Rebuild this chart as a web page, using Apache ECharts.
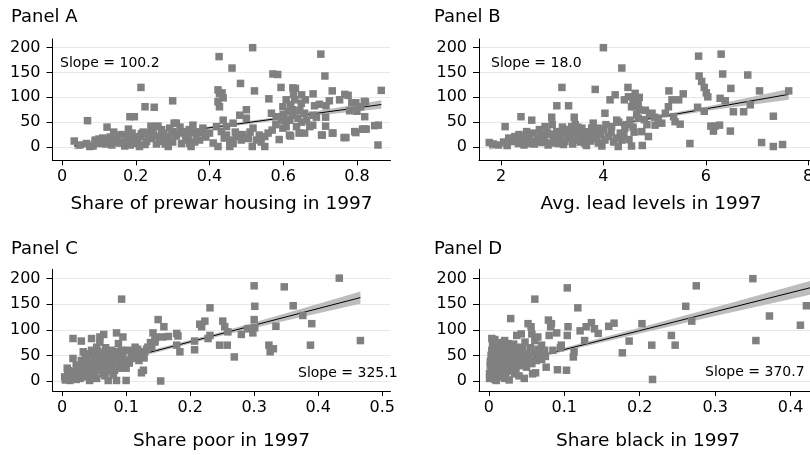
<!DOCTYPE html>
<html><head><meta charset="utf-8">
<script src="https://cdn.jsdelivr.net/npm/echarts@6/dist/echarts.min.js"></script>
<style>html,body{margin:0;padding:0;background:#fff}#c{width:810px;height:455px}</style>
</head><body><div id="c"></div>
<script>
// ---------- DATA ----------
const yTicks = [0, 50, 100, 150, 200];
const xTicksA = [0, 0.2, 0.4, 0.6, 0.8];
const xTicksB = [2, 4, 6, 8];
const xTicksC = [0, 0.1, 0.2, 0.3, 0.4, 0.5];
const xTicksD = [0, 0.1, 0.2, 0.3, 0.4];

const panelTitles = ['Panel A', 'Panel B', 'Panel C', 'Panel D'];
const xTitles = ['Share of prewar housing in 1997', 'Avg. lead levels in 1997', 'Share poor in 1997', 'Share black in 1997'];
const slopeLabels = ['Slope = 100.2', 'Slope = 18.0', 'Slope = 325.1', 'Slope = 370.7'];

const pointsA = [[0.033,12],[0.069,53],[0.075,1],[0.122,40],[0.214,120],[0.225,81],[0.25,80],[0.184,61],[0.196,61],[0.30,93],[0.426,182],[0.517,200],[0.702,187],[0.461,159],[0.713,143],[0.572,147],[0.585,146],[0.484,128],[0.522,113],[0.561,97],[0.594,120],[0.633,118],[0.681,107],[0.733,113],[0.866,114],[0.423,115],[0.427,107],[0.423,91],[0.427,81],[0.516,1],[0.55,1],[0.857,4],[0.765,19],[0.733,28],[0.704,24],[0.794,31],[0.815,36],[0.825,36],[0.848,43],[0.821,61],[0.78,73],[0.753,95],[0.82,92],[0.81,81],[0.68,64],[0.68,44],[0.658,28],[0.617,24],[0.589,15],[0.55,21],[0.559,28],[0.518,38],[0.5,58],[0.482,64],[0.5,75],[0.464,48],[0.455,14],[0.464,7],[0.455,1],[0.423,1],[0.437,54],[0.446,41],[0.4,28],[0.382,38],[0.355,44],[0.337,14],[0.346,7],[0.31,48],[0.30,31],[0.283,21],[0.265,14],[0.256,41],[0.242,17],[0.229,11],[0.21,1],[0.193,7],[0.179,14],[0.17,2],[0.147,21],[0.138,11],[0.12,6],[0.102,7],[0.084,2],[0.066,7],[0.048,4],[0.364,24],[0.373,14],[0.35,1],[0.324,7],[0.288,1],[0.274,11],[0.256,6],[0.599,81],[0.613,71],[0.627,64],[0.618,54],[0.64,58],[0.645,74],[0.649,88],[0.631,95],[0.608,95],[0.658,68],[0.663,54],[0.672,41],[0.636,41],[0.608,41],[0.595,54],[0.581,61],[0.568,68],[0.599,38],[0.419,41],[0.432,31],[0.446,24],[0.473,21],[0.486,14],[0.505,17],[0.527,14],[0.211,21],[0.229,28],[0.247,31],[0.274,28],[0.292,38],[0.319,28],[0.333,31],[0.342,21],[0.241,42],[0.26,42],[0.304,48],[0.18,36],[0.352,29],[0.383,29],[0.434,109],[0.437,99],[0.767,106],[0.776,104],[0.786,89],[0.797,89],[0.823,91],[0.8,72],[0.858,44],[0.82,36],[0.797,29],[0.77,19],[0.735,28],[0.715,42],[0.715,60],[0.706,24],[0.685,83],[0.698,86],[0.716,83],[0.725,93],[0.643,28],[0.62,22],[0.628,106],[0.626,119],[0.14,30],[0.16,25],[0.09,14],[0.11,18],[0.155,8],[0.2,20],[0.22,30],
[0.09,10],[0.1,16],[0.115,12],[0.13,20],[0.135,4],[0.15,14],[0.165,9],[0.175,22],[0.185,4],[0.19,28],[0.205,12],[0.215,27],[0.225,5],[0.235,20],[0.245,25],[0.26,22],[0.27,35],[0.28,6],[0.29,18],[0.3,10],[0.31,22],[0.32,40],[0.335,22],[0.345,35],[0.36,10],[0.37,30],[0.39,20],[0.41,8],[0.44,18],[0.47,30],[0.49,25],[0.51,30],[0.535,24],[0.54,10],[0.57,34],[0.58,45],[0.61,55],[0.625,75],[0.65,50],[0.66,95],[0.69,60],[0.6,65],[0.65,105],[0.62,85]];

const pointsB = [[1.77,9],[1.85,6],[2.08,41],[2.39,61],[2.6,54],[2.99,60],[3.09,83],[3.19,120],[3.32,83],[3.43,60],[3.84,116],[4.0,200],[4.36,159],[4.23,105],[4.48,120],[4.62,108],[4.13,95],[4.41,95],[4.03,68],[3.9,38],[3.97,2],[4.29,1],[4.55,2],[4.76,3],[4.88,21],[4.75,31],[4.82,74],[4.95,68],[4.68,88],[4.62,81],[4.49,101],[4.55,81],[4.68,58],[5.01,44],[5.14,48],[5.07,58],[5.27,81],[5.34,95],[5.21,68],[5.28,113],[5.47,95],[5.56,107],[5.37,61],[5.4,51],[5.5,46],[5.69,7],[5.86,183],[5.87,143],[5.92,132],[5.97,120],[6.01,109],[6.04,101],[5.84,80],[5.97,72],[6.1,42],[6.15,32],[6.18,42],[6.27,44],[6.3,187],[6.33,147],[6.28,98],[6.38,93],[6.49,118],[6.48,32],[6.54,71],[6.74,71],[6.82,145],[6.87,85],[7.05,113],[7.09,9],[7.32,62],[7.32,1],[7.5,5],[7.62,113],[1.95,4],[2.21,11],[2.27,21],[2.4,14],[2.53,7],[2.7,11],[2.79,24],[2.86,41],[2.92,4],[3.02,14],[3.09,31],[3.15,21],[3.25,11],[3.35,31],[3.41,14],[3.51,24],[3.58,38],[3.64,7],[3.71,21],[3.77,38],[3.87,17],[4.1,21],[4.16,41],[4.26,54],[4.33,28],[4.36,14],[4.42,38],[4.52,54],[4.03,14],[3.38,41],[3.12,7],[2.63,28],[2.5,31],[2.34,7],[2.15,18],[2.45,22],[2.75,35],[2.95,26],[3.2,40],[3.3,20],[3.45,45],[3.55,10],[3.7,30],[3.8,48],[3.95,25],[4.2,10],[4.45,45],[4.6,30],[3.0,45],[2.85,15],
[2.05,10],[2.12,3],[2.3,15],[2.35,25],[2.45,4],[2.55,18],[2.65,6],[2.72,20],[2.8,9],[2.9,30],[2.98,8],[3.05,22],[3.1,12],[3.18,28],[3.22,5],[3.28,35],[3.33,18],[3.4,6],[3.47,28],[3.5,40],[3.6,18],[3.62,30],[3.67,3],[3.75,12],[3.82,25],[3.9,8],[4.0,35],[4.05,45],[4.15,30],[4.25,18],[4.3,50],[4.4,25],[4.5,15],[4.58,40],[4.65,65],[4.7,75],[4.8,55],[4.85,45],[4.9,65],[5.0,60],[4.58,95],[4.7,100]];

const pointsC = [[0.017,83],[0.093,160],[0.085,94],[0.095,86],[0.03,78],[0.046,83],[0.059,86],[0.065,91],[0.017,44],[0.033,57],[0.085,1],[0.1,1],[0.072,1],[0.154,0],[0.124,16],[0.127,21],[0.15,120],[0.159,106],[0.142,94],[0.147,86],[0.145,76],[0.14,66],[0.157,86],[0.166,87],[0.179,93],[0.181,88],[0.184,57],[0.179,70],[0.207,78],[0.207,61],[0.218,106],[0.223,117],[0.215,111],[0.231,143],[0.228,83],[0.231,89],[0.246,70],[0.258,70],[0.251,117],[0.254,106],[0.259,96],[0.269,47],[0.28,91],[0.3,186],[0.301,146],[0.3,120],[0.298,94],[0.301,104],[0.29,102],[0.323,70],[0.325,57],[0.33,63],[0.334,107],[0.347,184],[0.361,147],[0.376,128],[0.39,112],[0.388,70],[0.433,201],[0.466,79],[0.004,8],[0.009,14],[0.012,1],[0.02,11],[0.025,24],[0.028,5],[0.035,34],[0.038,14],[0.043,1],[0.048,21],[0.051,40],[0.054,5],[0.059,31],[0.061,53],[0.064,14],[0.069,40],[0.072,27],[0.077,60],[0.08,44],[0.082,21],[0.09,37],[0.095,53],[0.098,31],[0.103,60],[0.108,47],[0.114,66],[0.116,44],[0.121,57],[0.129,57],[0.134,66],[0.041,53],[0.03,40],[0.054,66],[0.059,76],[0.022,31],[0.038,44],[0.046,60],[0.088,73],[0.085,57],[0.01,20],[0.015,5],[0.025,10],[0.032,20],[0.04,28],[0.045,10],[0.052,25],[0.057,45],[0.066,22],[0.07,55],[0.075,35],[0.08,12],[0.092,45],[0.1,25],[0.11,50],[0.12,40],
[0.005,2],[0.008,25],[0.013,10],[0.018,18],[0.022,3],[0.026,16],[0.03,30],[0.034,8],[0.036,45],[0.04,20],[0.044,35],[0.047,50],[0.05,15],[0.053,30],[0.056,58],[0.06,20],[0.063,40],[0.067,10],[0.068,65],[0.071,48],[0.074,18],[0.078,30],[0.082,50],[0.086,40],[0.089,25],[0.093,60],[0.097,40],[0.105,35],[0.112,55],[0.118,62],[0.125,50],[0.132,62],[0.138,75],[0.145,80],[0.128,45]];

const pointsD = [[0.004,83],[0.008,81],[0.029,122],[0.061,160],[0.104,182],[0.118,143],[0.052,112],[0.056,106],[0.079,119],[0.083,112],[0.082,106],[0.09,94],[0.08,89],[0.105,106],[0.104,89],[0.121,98],[0.129,106],[0.136,114],[0.14,102],[0.145,93],[0.127,79],[0.159,107],[0.166,113],[0.186,78],[0.177,55],[0.203,112],[0.216,70],[0.217,3],[0.242,89],[0.247,70],[0.261,146],[0.269,117],[0.275,186],[0.35,200],[0.354,79],[0.372,127],[0.413,109],[0.421,147],[0.047,5],[0.058,14],[0.062,16],[0.076,27],[0.091,22],[0.103,21],[0.112,47],[0.113,57],[0.096,70],[0.07,70],[0.074,60],[0.065,86],[0.061,79],[0.057,92],[0.043,92],[0.037,89],[0.048,76],[0.043,66],[0.063,40],[0.057,34],[0.001,5],[0.003,14],[0.004,24],[0.006,34],[0.007,44],[0.008,53],[0.01,1],[0.011,11],[0.013,21],[0.015,31],[0.016,40],[0.018,50],[0.019,60],[0.021,5],[0.023,18],[0.026,27],[0.028,40],[0.03,50],[0.032,63],[0.034,14],[0.037,34],[0.039,47],[0.041,57],[0.026,73],[0.021,79],[0.017,66],[0.004,60],[0.004,44],[0.012,70],[0.03,27],[0.046,44],[0.05,53],[0.054,40],[0.05,27],[0.002,30],[0.006,18],[0.009,8],[0.014,45],[0.02,36],[0.024,55],[0.035,65],[0.044,30],[0.068,50],
[0.001,15],[0.002,38],[0.003,50],[0.005,70],[0.007,28],[0.008,3],[0.009,40],[0.01,62],[0.012,8],[0.013,32],[0.014,55],[0.015,75],[0.016,15],[0.018,25],[0.019,42],[0.02,68],[0.022,10],[0.023,50],[0.025,35],[0.026,60],[0.027,2],[0.029,20],[0.031,38],[0.033,72],[0.035,48],[0.036,25],[0.038,58],[0.04,10],[0.042,42],[0.045,62],[0.048,35],[0.052,48],[0.055,65],[0.06,55],[0.065,62],[0.075,48],[0.085,60],[0.095,65],[0.07,42]];

// fitted lines and 95% bands
const fitXA = [0.033, 0.24, 0.45, 0.66, 0.866];
const fitYA = [2.0, 22.7, 43.8, 64.8, 85.5];
const loA = [-5, 19.5, 41, 61, 77];
const hiA = [9, 26, 46.5, 68.5, 94];

const fitXB = [1.77, 3.2, 4.6, 6.1, 7.62];
const fitYB = [0.7, 26.4, 51.6, 78.6, 106];
const loB = [-5.5, 23, 48.8, 74, 95];
const hiB = [7, 29.8, 54.4, 83.2, 117];

const fitXC = [0.004, 0.12, 0.235, 0.35, 0.466];
const fitYC = [12.8, 50.5, 87.9, 125.3, 163];
const loC = [7.5, 47, 84.5, 118, 151];
const hiC = [18, 54, 91.3, 132.5, 175];

const fitXD = [0.001, 0.1, 0.2, 0.3, 0.43];
const fitYD = [24.7, 61.4, 98.4, 135.5, 183.7];
const loD = [20, 58, 93, 127, 170];
const hiD = [29.5, 65, 104, 144, 197];

// ---------- LAYOUT ----------
const FONT = '"DejaVu Sans", sans-serif';
const layout = [
  {grid:{left:52.5, top:39, width:338, height:121.3}, xmin:-0.026, xmax:0.891, ymin:-26.8, ymax:217.5, nameGap:34.5, title:[11,8.5], slope:[60,63]},
  {grid:{left:479, top:39, width:344, height:121.3}, xmin:1.57, xmax:8.29, ymin:-26.8, ymax:217.5, nameGap:34.5, title:[434,8.5], slope:[491,63]},
  {grid:{left:52.5, top:269.3, width:338, height:121.7}, xmin:-0.015, xmax:0.513, ymin:-19.6, ymax:218.3, nameGap:40.5, title:[11,240.5], slope:[298,373.5]},
  {grid:{left:479, top:269.3, width:338, height:121.7}, xmin:-0.013, xmax:0.435, ymin:-19.6, ymax:218.3, nameGap:40.5, title:[434,240.5], slope:[705,372.5]}
];
const xTicks = [xTicksA, xTicksB, xTicksC, xTicksD];
const points = [pointsA, pointsB, pointsC, pointsD];
const fits = [[fitXA,fitYA,loA,hiA],[fitXB,fitYB,loB,hiB],[fitXC,fitYC,loC,hiC],[fitXD,fitYD,loD,hiD]];

const grids = [], xAxes = [], yAxes = [], series = [], titles = [], graphics = [];
layout.forEach((L, i) => {
  grids.push(Object.assign({outerBoundsMode:'none', containLabel:false}, L.grid));
  xAxes.push({
    type:'value', gridIndex:i, min:L.xmin, max:L.xmax,
    axisLine:{show:true, onZero:false, lineStyle:{color:'#000', width:1}},
    axisTick:{show:true, length:5, customValues:xTicks[i], lineStyle:{color:'#000', width:1}},
    axisLabel:{customValues:xTicks[i], fontFamily:FONT, fontSize:16, color:'#000', margin:9},
    splitLine:{show:false},
    name:xTitles[i], nameLocation:'middle', nameGap:L.nameGap,
    nameTextStyle:{fontFamily:FONT, fontSize:18.5, color:'#000'}
  });
  yAxes.push({
    type:'value', gridIndex:i, min:L.ymin, max:L.ymax,
    axisLine:{show:true, onZero:false, lineStyle:{color:'#000', width:1}},
    axisTick:{show:true, length:6, customValues:yTicks, lineStyle:{color:'#000', width:1}},
    axisLabel:{customValues:yTicks, fontFamily:FONT, fontSize:16, color:'#000', margin:12},
    splitLine:{show:false}
  });
  const [fx, fy, lo, hi] = fits[i];
  // gridlines
  series.push({
    type:'line', xAxisIndex:i, yAxisIndex:i, data:[], z:0, silent:true,
    markLine:{silent:true, z:0, symbol:['none','none'], animation:false, label:{show:false},
      emphasis:{disabled:true},
      lineStyle:{color:'#e8e8e8', width:1, type:'solid'},
      data:yTicks.map(v => ({yAxis:v}))}
  });
  // confidence band
  series.push({
    type:'custom', xAxisIndex:i, yAxisIndex:i, z:1, silent:true,
    data:[[fx[0], lo[0]]],
    renderItem:(params, api) => {
      const pts = [];
      for (let k = 0; k < fx.length; k++) pts.push(api.coord([fx[k], lo[k]]));
      for (let k = fx.length - 1; k >= 0; k--) pts.push(api.coord([fx[k], hi[k]]));
      return {type:'polygon', shape:{points:pts}, style:{fill:'#bdbdbd'}};
    }
  });
  // fitted line
  series.push({
    type:'line', xAxisIndex:i, yAxisIndex:i, z:2, silent:true, showSymbol:false,
    data:fx.map((x, k) => [x, fy[k]]),
    lineStyle:{color:'#000', width:1}
  });
  // scatter
  series.push({
    type:'scatter', xAxisIndex:i, yAxisIndex:i, z:3, silent:true,
    symbol:'rect', symbolSize:7.5, data:points[i],
    itemStyle:{color:'#808080', opacity:1}
  });
  titles.push({text:panelTitles[i], left:L.title[0], top:L.title[1], padding:0,
    textStyle:{fontFamily:FONT, fontSize:18, fontWeight:'normal', color:'#000'}});
  graphics.push({type:'text', x:L.slope[0], y:L.slope[1], z:10,
    style:{text:slopeLabels[i], font:'14px "DejaVu Sans", sans-serif', fill:'#000', verticalAlign:'middle', align:'left'}});
});

const chart = echarts.init(document.getElementById('c'), null, {renderer:'canvas'});
chart.setOption({
  animation:false,
  backgroundColor:'#fff',
  title:titles,
  grid:grids, xAxis:xAxes, yAxis:yAxes, series:series,
  graphic:graphics
});
</script></body></html>
